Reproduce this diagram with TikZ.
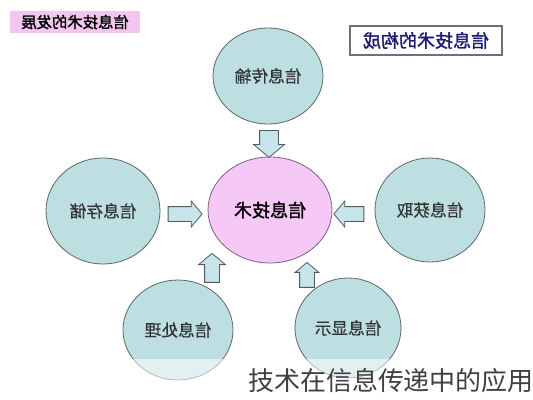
\documentclass[tikz,border=0pt]{standalone}
\usepackage{graphicx}
\usepackage{fontspec}
\setmainfont{Noto Sans CJK SC}
\newfontfamily\cjk{Noto Sans CJK SC}
\newfontfamily\cjkmid[FakeBold=0.6]{Noto Sans CJK SC}
\newfontfamily\cjkbold[FakeBold=1.6]{Noto Sans CJK SC}
\usetikzlibrary{shapes.geometric,shapes.arrows}
\definecolor{circfill}{HTML}{BEDFE2}
\definecolor{circline}{HTML}{5C6868}
\definecolor{arrfill}{HTML}{C6E4EA}
\definecolor{arrline}{HTML}{4E5C62}
\definecolor{pinkfill}{HTML}{F6C8F5}
\definecolor{pinkline}{HTML}{7E5E80}
\definecolor{labelpink}{HTML}{F3C6F0}
\definecolor{navytext}{HTML}{1C1C70}
\definecolor{boxline}{HTML}{6E6E80}
\tikzset{
  circnode/.style={ellipse, draw=circline, line width=0.6pt, fill=circfill,
    minimum width={110*0.75pt}, minimum height={100*0.75pt}, inner sep=0pt,
    font=\cjkmid\fontsize{12.5pt}{12.5pt}\selectfont, text=black!80},
  corenode/.style={ellipse, draw=pinkline, line width=0.6pt, fill=pinkfill,
    minimum width={124*0.75pt}, minimum height={106*0.75pt}, inner sep=0pt,
    font=\cjkbold\fontsize{13.5pt}{13.5pt}\selectfont, text=black},
  blockarrow/.style={single arrow, draw=arrline, line width=0.6pt, fill=arrfill,
    inner sep={7*0.75pt}, single arrow head extend={5.5*0.75pt},
    single arrow tip angle=100, anchor=center},
}
\begin{document}
\begin{tikzpicture}[x=0.75pt,y=-0.75pt]
\useasboundingbox (0,0) rectangle (533,400);
\fill[white] (0,0) rectangle (533,400);
% title labels
\node[fill=labelpink, minimum width={130*0.75pt}, minimum height={22*0.75pt}, inner sep=0pt,
  font=\cjkbold\fontsize{11.5pt}{11.5pt}\selectfont] (devlabel) at (75,22) {\reflectbox{信息技术的发展}};
\node[draw=boxline, line width=0.8pt, fill=white, minimum width={152*0.75pt}, minimum height={29*0.75pt}, inner sep=0pt,
  font=\cjkbold\fontsize{13.5pt}{13.5pt}\selectfont, text=navytext] (complabel) at (426,40.5) {\reflectbox{信息技术的构成}};
% nodes
\node[corenode] (core) at (270,210) {\reflectbox{信息技术}};
\node[circnode, minimum height={96*0.75pt}] (trans) at (268,76) {\reflectbox{信息传输}};
\node[circnode, minimum width={114*0.75pt}, minimum height={106*0.75pt}] (store) at (103,211) {\reflectbox{信息存储}};
\node[circnode, minimum height={104*0.75pt}] (get) at (430,210) {\reflectbox{信息获取}};
\node[circnode] (proc) at (178,330) {\reflectbox{信息处理}};
\node[circnode, minimum width={106*0.75pt}] (disp) at (348,328) {\reflectbox{信息显示}};
% arrows
\node[blockarrow, minimum height={27*0.75pt}, inner sep={9*0.75pt}, single arrow head extend={6*0.75pt}, shape border rotate=270] (a1) at (269,140) {};
\node[blockarrow, minimum height={34*0.75pt}, shape border rotate=0] (a2) at (182,214) {};
\node[blockarrow, minimum height={30*0.75pt}, shape border rotate=180] (a3) at (352,214) {};
\node[blockarrow, minimum height={29*0.75pt}, single arrow head extend={6*0.75pt}, shape border rotate=90] (a4) at (212,271) {};
\node[blockarrow, minimum height={25*0.75pt}, single arrow head extend={4.5*0.75pt}, shape border rotate=90] (a5) at (307,278) {};
% white band and caption
\fill[white, opacity=0.55] (0,359) rectangle (533,400);
\node[font=\cjk\fontsize{19.5pt}{19.5pt}\selectfont, text=black!75, inner sep=0pt] (caption) at (391,381) {技术在信息传递中的应用};
\end{tikzpicture}
\end{document}
